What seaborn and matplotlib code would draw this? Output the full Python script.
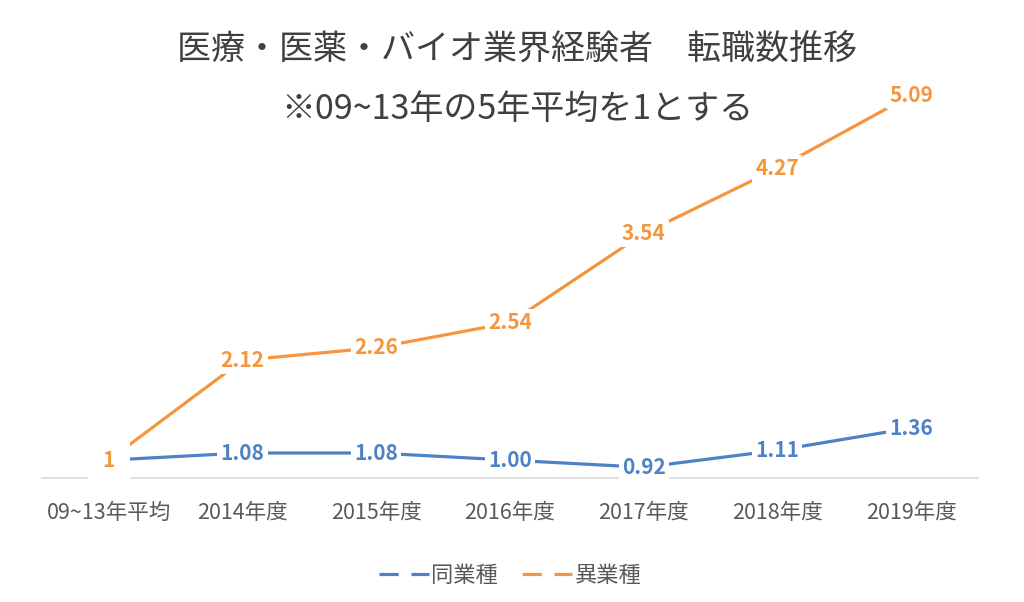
import matplotlib
matplotlib.use("Agg")
import matplotlib.pyplot as plt
import seaborn as sns
import pandas as pd

categories = ["09~13年平均", "2014年度", "2015年度", "2016年度", "2017年度", "2018年度", "2019年度"]
same_industry = [1, 1.08, 1.08, 1.00, 0.92, 1.11, 1.36]
other_industry = [1, 2.12, 2.26, 2.54, 3.54, 4.27, 5.09]
same_labels = ["1", "1.08", "1.08", "1.00", "0.92", "1.11", "1.36"]
other_labels = ["1", "2.12", "2.26", "2.54", "3.54", "4.27", "5.09"]
series_names = ["同業種", "異業種"]
title_text = "医療・医薬・バイオ業界経験者　転職数推移\n※09~13年の5年平均を1とする"

sns.set_style("white")
plt.rcParams['font.family'] = ['Noto Sans CJK JP', 'DejaVu Sans']

blue = "#4E81C6"
orange = "#F5963F"
text_gray = "#595959"

n = len(categories)
df = pd.DataFrame({
    "x": list(range(n)) * 2,
    "value": same_industry + other_industry,
    "series": [series_names[0]] * n + [series_names[1]] * n,
})

fig = plt.figure(figsize=(10.24, 6.02), dpi=100)
ax = fig.add_axes([0.041, 0.206, 0.914, 0.661])

sns.lineplot(data=df, x="x", y="value", hue="series", hue_order=series_names,
             palette=[blue, orange], linewidth=2.3, ax=ax, legend=True, zorder=2)

for vals, labs, col in [(same_industry, same_labels, blue), (other_industry, other_labels, orange)]:
    for i, (v, l) in enumerate(zip(vals, labs)):
        if l:
            pad = 0.7 if i == 0 else 0.15
            ax.text(i, v, l, ha="center", va="center", color=col, fontsize=15,
                    fontweight="bold", zorder=5,
                    bbox=dict(boxstyle=f"square,pad={pad}", fc="white", ec="none"))

ax.set_xlim(-0.5, n - 0.5)
ax.set_ylim(0.8, 5.26)
ax.set_xticks(range(n))
ax.set_xticklabels(categories, color=text_gray, fontsize=15.5)
ax.tick_params(axis="x", length=0, pad=17)
ax.set_yticks([])
ax.set_xlabel("")
ax.set_ylabel("")
for s in ["top", "left", "right"]:
    ax.spines[s].set_visible(False)
ax.spines["bottom"].set_color("#D9D9D9")
ax.spines["bottom"].set_linewidth(1.2)
ax.spines["bottom"].set_zorder(1)

fig.suptitle(title_text, x=0.505, y=0.945, fontsize=24.5, color="#404040",
             linespacing=1.9, va="top")

handles, labels = ax.get_legend_handles_labels()
for h in handles:
    h.set_linestyle((0, (6, 4)))
    h.set_linewidth(2.3)
ax.legend(handles, labels, loc="center", bbox_to_anchor=(0.5, -0.245), ncol=2,
          frameon=False, fontsize=16, labelcolor=text_gray, handlelength=2.25,
          handletextpad=0.1, columnspacing=1.1)

fig.savefig("out.png", dpi=100, facecolor="white")
